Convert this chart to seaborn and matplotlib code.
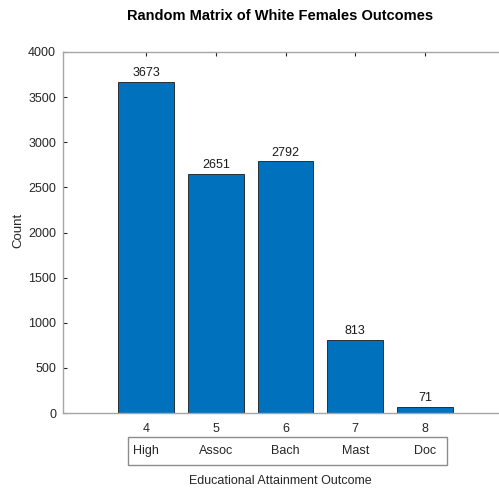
import matplotlib
matplotlib.use("Agg")
import matplotlib.pyplot as plt
import matplotlib.transforms as mtransforms
from matplotlib.patches import Rectangle
import seaborn as sns
import pandas as pd

codes = [4, 5, 6, 7, 8]
counts = [3673, 2651, 2792, 813, 71]
level_names = ["High", "Assoc", "Bach", "Mast", "Doc"]
y_ticks = [0, 500, 1000, 1500, 2000, 2500, 3000, 3500, 4000]

sns.set_theme(style="white")
plt.rcParams['font.family'] = ['Liberation Sans', 'DejaVu Sans']

df = pd.DataFrame({"code": codes, "count": counts})

fig = plt.figure(figsize=(4.99, 4.91), dpi=100)
ax = fig.add_axes([63/499, 78/491, (499-63)/499, (413-52)/491])

sns.barplot(data=df, x="code", y="count", native_scale=True, color="#0072BD",
            saturation=1, edgecolor="#1a1a1a", linewidth=0.6, width=0.8, ax=ax)

ax.set_xlim(2.81, 9.06)
ax.set_ylim(0, 4000)
ax.set_xticks(codes)
ax.set_xticklabels([str(c) for c in codes])
ax.set_yticks(y_ticks)

spine_c = "#a6a6a6"
for s in ["left", "bottom", "top"]:
    ax.spines[s].set_color(spine_c)
    ax.spines[s].set_linewidth(1.0)
ax.spines["right"].set_visible(False)
ax.tick_params(axis="both", direction="in", length=3, width=0.8, color="#262626",
               labelsize=9, labelcolor="#262626", pad=7, top=True, bottom=True, left=True)
ax.tick_params(axis="y", pad=5)

for c, v in zip(codes, counts):
    ax.text(c, v + 25, str(v), ha="center", va="bottom", fontsize=9, color="#1a1a1a")

ax.set_ylabel("")
ax.set_xlabel("")
fig.text(18/499, 1 - 230/491, "Count", rotation=90, ha="center", va="center",
         fontsize=9.5, color="#262626")

fig.text(280/499, 1 - 16/491, "Random Matrix of White Females Outcomes",
         ha="center", va="center", fontsize=10.5, fontweight="bold", color="black")

# category box below axis
trans = mtransforms.blended_transform_factory(ax.transData, fig.transFigure)
rect = Rectangle((128/499, 1 - 465/491), (447-128)/499, (465-437)/491,
                 transform=fig.transFigure, fill=False, edgecolor="#8c8c8c", linewidth=1.0)
fig.add_artist(rect)
for c, name in zip(codes, level_names):
    t = fig.text(0, 0, name, transform=trans, fontsize=9, color="#262626",
                 ha="center", va="center")
    t.set_position((c, 1 - 451/491))

fig.text(280/499, 1 - 481/491, "Educational Attainment Outcome", ha="center", va="center",
         fontsize=9, color="#262626")

fig.savefig("out.png", dpi=100, facecolor="white")
